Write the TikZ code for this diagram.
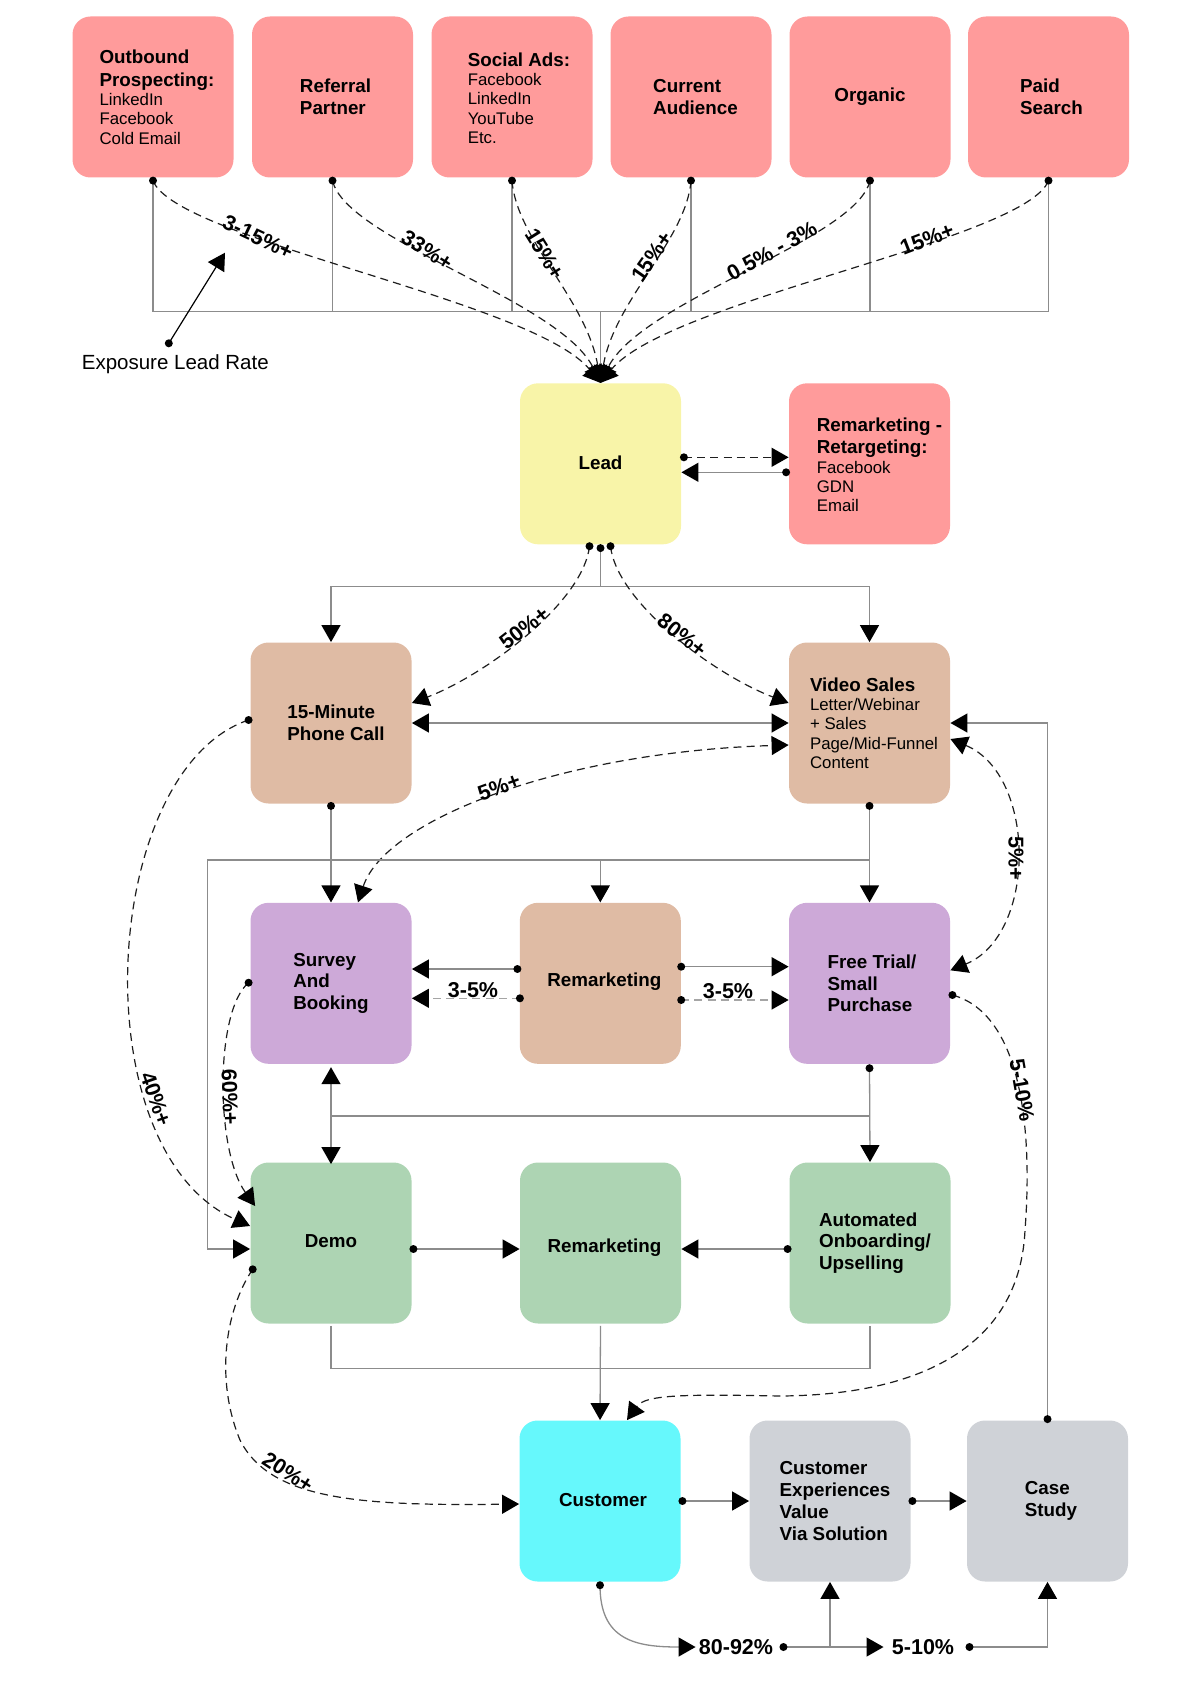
\documentclass[tikz,border=0pt]{standalone}
\usepackage{fontspec}
\setmainfont{Liberation Sans}
\usetikzlibrary{arrows.meta,calc}
\definecolor{cpink}{HTML}{FF9B9B}
\definecolor{cyel}{HTML}{F8F4A8}
\definecolor{ctan}{HTML}{DFBBA4}
\definecolor{cpur}{HTML}{CDA9D8}
\definecolor{cgrn}{HTML}{ADD4B3}
\definecolor{ccyn}{HTML}{66F8FC}
\definecolor{cgry}{HTML}{CFD2D7}
\definecolor{lgray}{RGB}{140,140,140}
\definecolor{llgray}{RGB}{165,165,165}
\definecolor{dkc}{RGB}{30,30,30}
\newcommand\bxb{\fontsize{9.4pt}{10.85pt}\selectfont\bfseries}
\newcommand\bxr{\fontsize{8.4pt}{9.65pt}\selectfont\mdseries}
\newcommand\lbf{\fontsize{10.75pt}{12pt}\selectfont\bfseries}
\newcommand\exf{\fontsize{10.25pt}{12pt}\selectfont}
\begin{document}
\begin{tikzpicture}[x=0.5pt,y=-0.5pt,
  box/.style={rounded corners=9pt,minimum width=80.5pt,minimum height=80.5pt,inner sep=0pt},
  txt/.style={align=left,inner sep=0pt,font=\bxb,text=black},
  mtxt/.style={align=left,inner sep=0pt,font=\bxr,text=black},
  gl/.style={draw=lgray,line width=0.65pt},
  dl/.style={draw=dkc,line width=0.6pt,dash pattern=on 4pt off 2.6pt},
  ldl/.style={draw=llgray,line width=0.6pt,dash pattern=on 4pt off 2.6pt},
  ar/.style={-{Triangle[length=8.5pt,width=9.5pt,color=black]}},
  dar/.style={{Triangle[length=8.5pt,width=9.5pt,color=black]}-{Triangle[length=8.5pt,width=9.5pt,color=black]}},
  lab/.style={font=\lbf,inner sep=1.5pt,text=black},
]
\useasboundingbox (0,0) rectangle (1200,1684);

% ---------- boxes ----------
\node[box,fill=cpink] (out) at (153,97) {};
\node[box,fill=cpink] (ref) at (332.5,97) {};
\node[box,fill=cpink] (soc) at (512,97) {};
\node[box,fill=cpink] (cur) at (691,97) {};
\node[box,fill=cpink] (org) at (870,97) {};
\node[box,fill=cpink] (paid) at (1048.5,97) {};
\node[box,fill=cyel] (lead) at (600.5,463.8) {};
\node[box,fill=cpink] (rmk) at (869.5,463.8) {};
\node[box,fill=ctan] (phone) at (331,723) {};
\node[box,fill=ctan] (video) at (869.5,723) {};
\node[box,fill=cpur] (survey) at (331,983.3) {};
\node[box,fill=ctan] (rmt) at (600.3,983.3) {};
\node[box,fill=cpur] (trial) at (869.5,983.3) {};
\node[box,fill=cgrn] (demo) at (331,1243) {};
\node[box,fill=cgrn] (rmg) at (600.5,1243) {};
\node[box,fill=cgrn] (auto) at (870,1243) {};
\node[box,fill=ccyn] (cust) at (600,1501) {};
\node[box,fill=cgry] (cev) at (830,1501) {};
\node[box,fill=cgry] (case) at (1047.5,1501) {};

% ---------- box texts ----------
\node[mtxt] (outT) at ($(out)+(4,0)$) {\bxb Outbound\\[1.7pt]\bxb Prospecting:\\\bxr LinkedIn\\\bxr Facebook\\\bxr Cold Email};
\node[txt] (refT) at ($(ref)+(3,0)$) {Referral\\Partner};
\node[mtxt] (socT) at ($(soc)+(7,1)$) {\bxb Social Ads:\\\bxr Facebook\\\bxr LinkedIn\\\bxr YouTube\\\bxr Etc.};
\node[txt] (curT) at ($(cur)+(4.5,0)$) {Current\\Audience};
\node[txt] (orgT) at ($(org)+(0,0)$) {Organic};
\node[txt] (paidT) at ($(paid)+(3,0)$) {Paid\\Search};
\node[txt] (leadT) at ($(lead)+(0,-1)$) {Lead};
\node[mtxt] (rmkT) at ($(rmk)+(10,1)$) {\bxb Remarketing -\\[1.5pt]\bxb Retargeting:\\\bxr Facebook\\\bxr GDN\\\bxr Email};
\node[txt] (phoneT) at ($(phone)+(5,0)$) {15-Minute\\Phone Call};
\node[mtxt] (videoT) at ($(video)+(4.5,0)$) {\bxb Video Sales\\\bxr Letter/Webinar\\\bxr + Sales\\\bxr Page/Mid-Funnel\\\bxr Content};
\node[txt] (surveyT) at ($(survey)+(0,0)$) {Survey\\And\\Booking};
\node[txt] (rmtT) at ($(rmt)+(4,-2)$) {Remarketing};
\node[txt] (trialT) at ($(trial)+(2.5,0)$) {Free Trial/\\Small\\Purchase};
\node[txt] (demoT) at ($(demo)+(0,-2)$) {Demo};
\node[txt] (rmgT) at ($(rmg)+(4,5)$) {Remarketing};
\node[txt] (autoT) at ($(auto)+(5,0)$) {Automated\\Onboarding/\\Upselling};
\node[txt] (custT) at ($(cust)+(3,-1)$) {Customer};
\node[txt] (cevT) at ($(cev)+(5,0)$) {Customer\\Experiences\\Value\\Via Solution};
\node[txt] (caseT) at ($(case)+(3.5,0)$) {Case\\Study};

% ---------- top bus ----------
\coordinate (bus) at (600.5,311.7);
\draw[gl] (out.south) -- (out.south |- bus) -- (paid.south |- bus) -- (paid.south);
\foreach \n in {ref,soc,cur,org} \draw[gl] (\n.south) -- (\n.south |- bus);
\draw[gl,ar] (bus) -- (lead.north);
\foreach \n/\xx in {out/153,ref/332.5,soc/512,cur/691,org/870,paid/1048.5}{
  \draw[dl,ar] ($(\n.south)+(0,2.7)$) .. controls ({\xx+0.05*(600.5-\xx)},240) and ({600.5+0.15*(\xx-600.5)},300) .. (lead.north);
  \fill[black] ($(\n.south)+(0,2.7)$) circle (2pt);
}
\node[lab,rotate=-25] at (258,237) {3-15\%+};
\node[lab,rotate=-32] at (427,250) {33\%+};
\node[lab,rotate=-58] at (545,254) {15\%+};
\node[lab,rotate=55] at (652,257) {15\%+};
\node[lab,rotate=29] at (772,251) {0.5\% - 3\%};
\node[lab,rotate=21] at (927,239) {15\%+};

% exposure
\node[font=\exf] (expo) at (175.3,364) {Exposure Lead Rate};
\coordinate (expdot) at (168.8,343.3);
\coordinate (exptip) at (225,252.7);
\draw[black,line width=0.6pt,ar] (expdot) -- (exptip);
\fill[black] (expdot) circle (2pt);

% lead <-> retargeting
\draw[dl,ar] ($(lead.east)+(2.5,-6.5)$) -- ($(rmk.west)+(0,-6.5)$);
\fill[black] ($(lead.east)+(2.5,-6.5)$) circle (2pt);
\draw[gl,ar] ($(rmk.west)+(-2.5,8.5)$) -- ($(lead.east)+(0,8.5)$);
\fill[black] ($(rmk.west)+(-2.5,8.5)$) circle (2pt);

% lead bottom
\coordinate (ld1) at ($(lead.south)+(-11,1.5)$);
\coordinate (ld2) at ($(lead.south)+(0,3.4)$);
\coordinate (ld3) at ($(lead.south)+(10,1.5)$);
\coordinate (bus1) at (600,586.7);
\draw[gl,ar] (ld2) -- (ld2 |- bus1) -| (phone.north);
\draw[gl,ar] (ld2 |- bus1) -| (video.north);
\draw[dl,ar] (ld1) .. controls (583,603) and (485,675) .. ($(phone.east)+(0,-20)$);
\draw[dl,ar] (ld3) .. controls (617,603) and (715,675) .. ($(video.west)+(0,-20)$);
\foreach \c in {ld1,ld2,ld3} \fill[black] (\c) circle (2pt);
\node[lab,rotate=38] at (524,628) {50\%+};
\node[lab,rotate=-38] at (682,635) {80\%+};

% phone <-> video
\draw[gl,dar] (phone.east) -- (video.west);
\draw[gl,ar] ($(case.north)+(0,-1)$) |- (video.east);
\fill[black] ($(case.north)+(0,-1)$) circle (2pt);

% 5%+ curves
\draw[dl,dar] ($(survey.north)+(27,0)$) .. controls (385,820) and (560,752) .. ($(video.west)+(0,22)$);
\node[lab,rotate=20] at (499,787) {5\%+};
\draw[dl,dar] ($(video.east)+(0,16)$) .. controls (1037,775) and (1037,935) .. ($(trial.east)+(0,-13)$);
\node[lab,rotate=-90] at (1016,858) {5\%+};

% phone/video down
\draw[gl,ar] ($(phone.south)+(0,2)$) -- (survey.north);
\fill[black] ($(phone.south)+(0,2)$) circle (2pt);
\draw[gl,ar] ($(video.south)+(0,2)$) -- (trial.north);
\fill[black] ($(video.south)+(0,2)$) circle (2pt);
\coordinate (bus2) at (207.3,860);
\draw[gl,ar] (video.south |- bus2) -- (bus2) |- ($(demo.west)+(0,6)$);
\draw[gl,ar] (rmt.north |- bus2) -- (rmt.north);

% remarketing (tan) sides
\draw[gl,ar] ($(rmt.west)+(-2,-14.3)$) -- ($(survey.east)+(0,-14.3)$);
\fill[black] ($(rmt.west)+(-2,-14.3)$) circle (2pt);
\draw[ldl,ar] ($(rmt.west)+(0.5,15)$) -- ($(survey.east)+(0,15)$);
\fill[black] ($(rmt.west)+(0.5,15)$) circle (2pt);
\node[lab] at (473,990) {3-5\%};
\draw[gl,ar] ($(rmt.east)+(0,-16.6)$) -- ($(trial.west)+(0,-16.6)$);
\fill[black] ($(rmt.east)+(0,-16.6)$) circle (2pt);
\draw[ldl,ar] ($(rmt.east)+(0,16.7)$) -- ($(trial.west)+(0,16.7)$);
\fill[black] ($(rmt.east)+(0,16.7)$) circle (2pt);
\node[lab] at (728,991) {3-5\%};

% 40% and 60%
\draw[dl,ar] ($(phone.west)+(-1.5,-3)$) .. controls (100,770) and (80,1150) .. ($(demo.west)+(0,-17)$);
\fill[black] ($(phone.west)+(-1.5,-3)$) circle (2pt);
\node[lab,rotate=-71] at (156,1099) {40\%+};
\draw[dl,ar] ($(survey.west)+(-1.5,-0.6)$) .. controls (215,1010) and (215,1150) .. ($(demo.west)+(5,-37)$);
\fill[black] ($(survey.west)+(-1.5,-0.6)$) circle (2pt);
\node[lab,rotate=-88] at (230,1097) {60\%+};

% 5-10% to customer
\draw[dl,ar] ($(trial.east)+(2,11.7)$) .. controls (1025,1015) and (1032,1140) .. (1025,1230) .. controls (1020,1340) and (930,1395) .. (780,1396) .. controls (680,1394) and (645,1395) .. ($(cust.north)+(27,0)$);
\fill[black] ($(trial.east)+(2,11.7)$) circle (2pt);
\node[lab,rotate=-80] at (1022,1090) {5-10\%};

% survey <-> demo, bus3
\coordinate (bus3) at (600,1116);
\draw[gl,dar] ($(survey.south)+(0,3)$) -- ($(demo.north)+(0,2)$);
\draw[gl] (survey.south |- bus3) -- (trial.south |- bus3);
\draw[gl,ar] ($(trial.south)+(0,4)$) -- (auto.north);
\fill[black] ($(trial.south)+(0,4)$) circle (2pt);

% row 4
\draw[gl,ar] ($(demo.east)+(1.5,6)$) -- ($(rmg.west)+(0,6)$);
\fill[black] ($(demo.east)+(1.5,6)$) circle (2pt);
\draw[gl,ar] ($(auto.west)+(-1.5,6)$) -- ($(rmg.east)+(0,6)$);
\fill[black] ($(auto.west)+(-1.5,6)$) circle (2pt);
\coordinate (bus4) at (600,1368.3);
\draw[gl] ($(demo.south)+(0,2)$) -- (demo.south |- bus4) -- (auto.south |- bus4) -- ($(auto.south)+(0,2)$);
\draw[gl,ar] ($(rmg.south)+(0,2)$) -- (cust.north);

% 20%
\draw[dl,ar] ($(demo.west)+(2.6,26.3)$) .. controls (225,1310) and (215,1380) .. (240,1440) .. controls (270,1500) and (360,1506) .. ($(cust.west)+(0,3)$);
\fill[black] ($(demo.west)+(2.6,26.3)$) circle (2pt);
\node[lab,rotate=-33] at (288,1472) {20\%+};

% bottom row
\draw[gl,ar] ($(cust.east)+(1.5,0)$) -- (cev.west);
\fill[black] ($(cust.east)+(1.5,0)$) circle (2pt);
\draw[gl,ar] ($(cev.east)+(1.5,0)$) -- (case.west);
\fill[black] ($(cev.east)+(1.5,0)$) circle (2pt);

\node[lab] (t8092) at (736,1647) {80-92\%};
\node[lab] (t510) at (923,1647) {5-10\%};
\draw[gl,ar] ($(cust.south)+(0,3.3)$) .. controls (600,1640) and (635,1647) .. (t8092.west);
\fill[black] ($(cust.south)+(0,3.3)$) circle (2pt);
\draw[gl,ar] ($(t8092.east)+(7,0)$) -- ($(t510.west)+(-5,0)$);
\fill[black] ($(t8092.east)+(7,0)$) circle (2pt);
\draw[gl,ar] (cev.south |- t8092) -- (cev.south);
\draw[gl,ar] ($(t510.east)+(12,0)$) -| (case.south);
\fill[black] ($(t510.east)+(12,0)$) circle (2pt);
\end{tikzpicture}
\end{document}
